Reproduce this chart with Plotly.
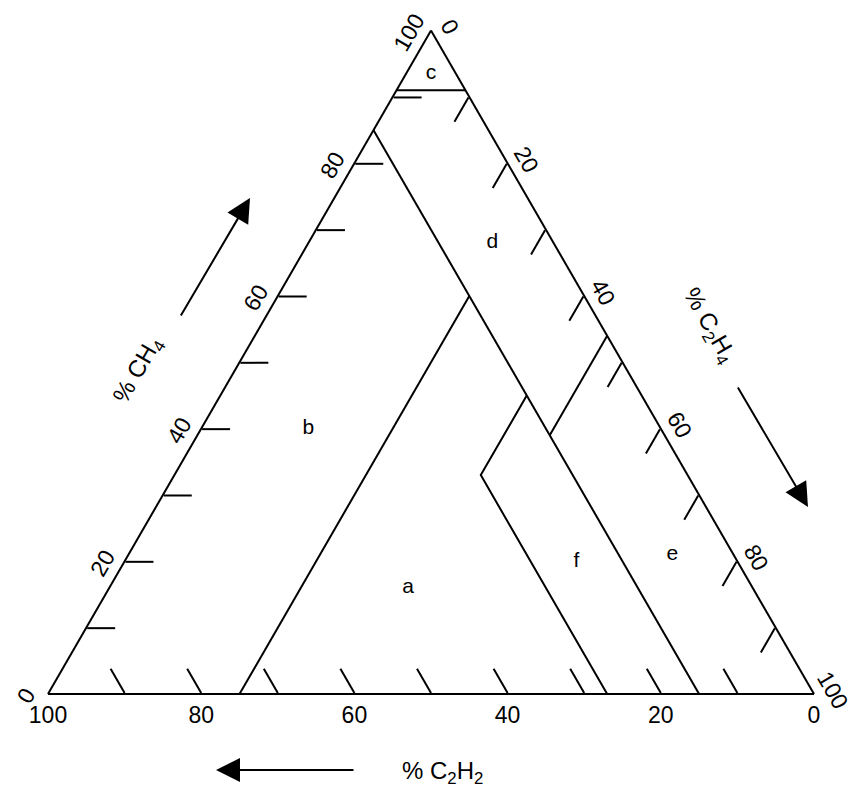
import plotly.graph_objects as go

# Boundary levels of the zones (percent of the gas sum)
CH4_TOP = 91          # upper zone c
C2H2_MAIN = 15        # long diagonal boundary
C2H4_LEFT = 25        # boundary between zones a and b
C2H4_F = 40           # upper edge of zone f
C2H2_F = 27           # left edge of zone f
C2H4_E = 46           # boundary between zones d and e

# Zone label positions (CH4, C2H2, C2H4)
zone_names = ["a", "b", "c", "d", "e", "f"]
zone_ch4 = [16, 40, 93.5, 68, 21, 20]
zone_c2h2 = [45, 46, 3.25, 8, 8, 21]
zone_c2h4 = [39, 14, 3.25, 24, 71, 59]

tick_vals = [0, 10, 20, 30, 40, 50, 60, 70, 80, 90, 100]
tick_text = ["0", "", "20", "", "40", "", "60", "", "80", "", "100"]

FONT = "Liberation Sans, Arial, sans-serif"
NBSP = "\u00a0"

# zone boundary polylines as (CH4, C2H2, C2H4) points
segments = [
    [(CH4_TOP, 100 - CH4_TOP, 0), (CH4_TOP, 0, 100 - CH4_TOP)],
    [(100 - C2H2_MAIN, C2H2_MAIN, 0), (0, C2H2_MAIN, 100 - C2H2_MAIN)],
    [(0, 100 - C2H4_LEFT, C2H4_LEFT), (100 - C2H2_MAIN - C2H4_LEFT, C2H2_MAIN, C2H4_LEFT)],
    [(100 - C2H2_MAIN - C2H4_F, C2H2_MAIN, C2H4_F),
     (100 - C2H2_F - C2H4_F, C2H2_F, C2H4_F),
     (0, C2H2_F, 100 - C2H2_F)],
    [(100 - C2H4_E, 0, C2H4_E), (100 - C2H2_MAIN - C2H4_E, C2H2_MAIN, C2H4_E)],
]

fig = go.Figure()
for seg in segments:
    fig.add_trace(go.Scatterternary(
        a=[p[0] for p in seg], b=[p[1] for p in seg], c=[p[2] for p in seg],
        mode="lines", line=dict(color="black", width=2),
        hoverinfo="skip", showlegend=False))

fig.add_trace(go.Scatterternary(
    a=zone_ch4, b=zone_c2h2, c=zone_c2h4, text=zone_names,
    mode="text", textfont=dict(family=FONT, size=21, color="black"),
    hoverinfo="skip", showlegend=False))

W, H = 856, 788
x0, x1 = 48, 814
base_y = 694
side = x1 - x0
tri_h = side * 3 ** 0.5 / 2
dom_y0 = (H - base_y) / H
dom_y1 = (H - base_y + tri_h) / H

axis_common = dict(
    tickmode="array", tickvals=tick_vals,
    ticks="inside", ticklen=28, tickwidth=2, tickcolor="black",
    showgrid=False, linecolor="black", linewidth=2,
    tickfont=dict(family=FONT, size=23, color="black"),
    title=dict(text=""),
)

fig.update_layout(
    width=W, height=H,
    margin=dict(l=0, r=0, t=0, b=0),
    paper_bgcolor="white",
    showlegend=False,
    ternary=dict(
        sum=100,
        domain=dict(x=[x0 / W, x1 / W], y=[dom_y0, dom_y1]),
        bgcolor="white",
        aaxis=dict(axis_common, tickangle=-60,
                   ticktext=[t + NBSP * 5 if t else "" for t in tick_text]),
        baxis=dict(axis_common, tickangle=0, ticktext=tick_text),
        caxis=dict(axis_common, tickangle=60,
                   ticktext=[NBSP * 3 + t if t else "" for t in tick_text]),
    ),
)

def px(x, y):
    return x / W, (H - y) / H

annotations = []
# axis names
for text, (x, y), ang in [
    ("% CH<sub>4</sub>", (138, 370), -60),
    ("% C<sub>2</sub>H<sub>4</sub>", (709, 325), 60),
    ("% C<sub>2</sub>H<sub>2</sub>", (442, 772), 0),
]:
    xp, yp = px(x, y)
    annotations.append(dict(x=xp, y=yp, xref="paper", yref="paper", text=text,
                            showarrow=False, textangle=ang,
                            xanchor="center", yanchor="middle",
                            font=dict(family=FONT, size=24, color="black")))
# direction arrows: head position and tail offset in pixels
for (hx, hy), (tx, ty) in [((250, 198), (180, 317)),
                           ((808, 507), (737, 386)),
                           ((216, 770), (355, 770))]:
    xp, yp = px(hx, hy)
    annotations.append(dict(x=xp, y=yp, xref="paper", yref="paper", text="",
                            showarrow=True, arrowhead=2, arrowsize=2.4,
                            arrowwidth=2, arrowcolor="black",
                            ax=tx - hx, ay=ty - hy))
fig.update_layout(annotations=annotations)

fig.write_html("out.html")
